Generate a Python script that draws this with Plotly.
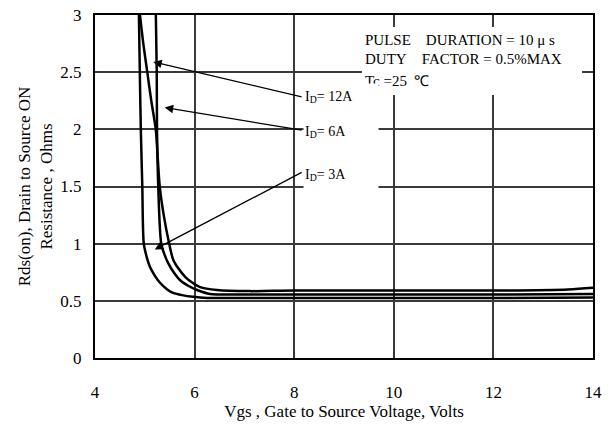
import plotly.graph_objects as go

# Data
vgs_3a = [4.88, 4.90, 4.92, 4.95, 4.98, 5.04, 5.10, 5.20, 5.30, 5.45, 5.57, 5.75, 5.97, 6.25, 7, 8, 10, 12, 14]
rds_3a = [3.05, 2.5, 2.0, 1.5, 1.0, 0.88, 0.80, 0.72, 0.66, 0.60, 0.57, 0.55, 0.535, 0.525, 0.525, 0.525, 0.525, 0.525, 0.53]

vgs_6a = [5.22, 5.24, 5.245, 5.27, 5.33, 5.40, 5.47, 5.58, 5.71, 5.88, 6.05, 6.31, 7, 8, 10, 12, 14]
rds_6a = [3.05, 2.5, 2.0, 1.5, 1.0, 0.9, 0.83, 0.75, 0.68, 0.63, 0.595, 0.56, 0.555, 0.555, 0.555, 0.555, 0.56]

vgs_12a = [4.89, 4.97, 5.05, 5.13, 5.22, 5.26, 5.30, 5.38, 5.49, 5.57, 5.68, 5.81, 5.95, 6.11, 6.45, 7.1, 8, 10, 12, 13.5, 14]
rds_12a = [3.05, 2.75, 2.5, 2.25, 2.0, 1.75, 1.5, 1.25, 1.0, 0.86, 0.78, 0.71, 0.66, 0.62, 0.595, 0.585, 0.59, 0.59, 0.59, 0.60, 0.615]

x_ticks = [4, 6, 8, 10, 12, 14]
y_ticks = [0, 0.5, 1, 1.5, 2, 2.5, 3]
y_tick_labels = ["0", "0.5", "1", "1.5", "2", "2.5", "3"]

labels = ["I<sub>D</sub>= 12A", "I<sub>D</sub>= 6A", "I<sub>D</sub>= 3A"]
label_pos = [(8.18, 2.28), (8.18, 1.98), (8.18, 1.60)]
label_box_h = [24, 24, 34]
arrow_tips = [(5.17, 2.59), (5.40, 2.19), (5.20, 0.95)]
arrow_tails = [(8.18, 2.28), (8.18, 1.99), (8.18, 1.63)]

cond_lines = ["PULSE&nbsp;&nbsp;&nbsp;&nbsp;DURATION = 10 μ s",
              "DUTY&nbsp;&nbsp;&nbsp;&nbsp;FACTOR = 0.5%MAX",
              "Tc =25&nbsp;&nbsp;℃"]
cond_line_y = [0.927, 0.872, 0.808]

FONT = "Liberation Serif, Times New Roman, serif"

fig = go.Figure()
for xs, ys in [(vgs_3a, rds_3a), (vgs_6a, rds_6a), (vgs_12a, rds_12a)]:
    fig.add_trace(go.Scatter(x=xs, y=ys, mode="lines",
                             line=dict(color="black", width=2.5, shape="spline", smoothing=0.8),
                             showlegend=False, hoverinfo="skip"))

# white panel behind the test-condition text (interrupts the grid as in the reference)
fig.add_shape(type="rect", xref="paper", yref="paper", x0=0.536, x1=0.978, y0=0.767, y1=0.965,
              fillcolor="white", line=dict(width=0), layer="above")

annotations = []
for txt, yy in zip(cond_lines, cond_line_y):
    annotations.append(dict(
        x=0.538, y=yy, xref="paper", yref="paper", xanchor="left", yanchor="middle",
        showarrow=False, align="left", text=txt,
        font=dict(family=FONT, size=15, color="black")))

for (lx, ly), (tx, ty), (sx, sy), lab, bh in zip(label_pos, arrow_tips, arrow_tails, labels, label_box_h):
    annotations.append(dict(
        x=tx, y=ty, ax=sx, ay=sy, xref="x", yref="y", axref="x", ayref="y",
        text="", showarrow=True, arrowhead=2, arrowsize=1.3, arrowwidth=1.3,
        arrowcolor="black", standoff=0, startstandoff=0))
    annotations.append(dict(
        x=lx, y=ly, xref="x", yref="y", xanchor="left", yanchor="middle",
        showarrow=False, text=lab, bgcolor="white", width=72, height=bh, align="left",
        font=dict(family=FONT, size=14, color="black")))

fig.update_layout(
    width=611, height=432,
    margin=dict(l=95, r=18, t=15, b=74, autoexpand=False),
    paper_bgcolor="white", plot_bgcolor="white",
    font=dict(family=FONT, size=17, color="black"),
    annotations=annotations,
    xaxis=dict(range=[4, 14], tickvals=x_ticks, showgrid=True, gridcolor="#3a3a3a", gridwidth=1.5,
               showline=True, linecolor="black", linewidth=2, mirror=True, ticks="",
               zeroline=False, ticklabelstandoff=18, automargin=False, ticklabeloverflow="allow",
               title=dict(text="Vgs , Gate to Source Voltage, Volts", standoff=4,
                          font=dict(family=FONT, size=17))),
    yaxis=dict(range=[0, 3], tickvals=y_ticks, ticktext=y_tick_labels, showgrid=True,
               gridcolor="#3a3a3a", gridwidth=1.5, automargin=False, ticklabeloverflow="allow",
               showline=True, linecolor="black", linewidth=2, mirror=True, ticks="",
               zeroline=False, ticklabelstandoff=8,
               title=dict(text="Rds(on), Drain to Source ON<br>Resistance , Ohms", standoff=3,
                          font=dict(family=FONT, size=17))),
)

fig.write_html("out.html", config={"displayModeBar": False},
               post_script="document.body.style.margin='0';")
